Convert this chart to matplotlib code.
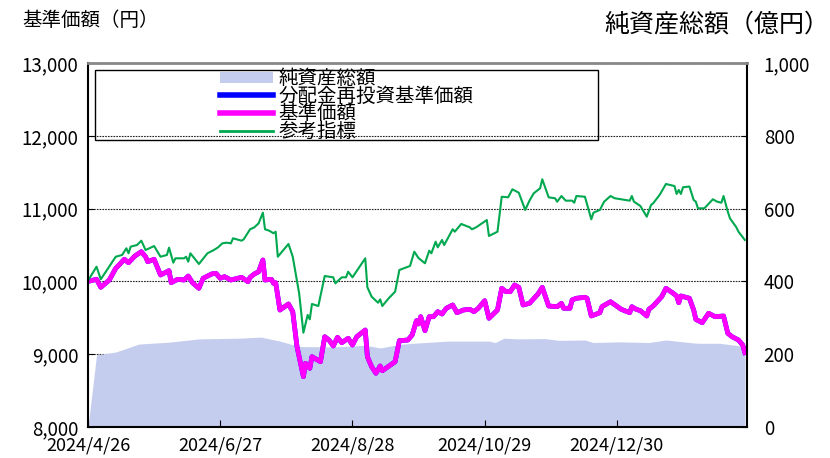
import numpy as np
import matplotlib.pyplot as plt
from matplotlib.patches import Rectangle, Patch
from matplotlib.lines import Line2D

plt.rcParams['font.family'] = ['Noto Sans CJK JP', 'DejaVu Sans']

# x axis: days since 2024/4/26
tick_days = [0, 62, 124, 186, 248]
tick_labels = ['2024/4/26', '2024/6/27', '2024/8/28', '2024/10/29', '2024/12/30']

# 参考指標
ref_days = [0, 4, 6, 11, 13, 16, 18, 19, 20, 23, 25, 27, 31, 34, 37, 38, 40, 41, 45, 46,
            47, 48, 52, 56, 59, 61, 63, 65, 67, 68, 72, 73, 76, 78, 80, 82, 83, 85, 87, 88,
            89, 94, 96, 99, 101, 103, 104, 105, 108, 111, 115, 116, 119, 121, 122, 124, 130, 131, 133, 136,
            137, 138, 141, 144, 146, 151, 153, 155, 158, 160, 161, 163, 164, 166, 167, 171, 172, 175, 179, 180,
            182, 187, 188, 192, 194, 197, 199, 202, 205, 207, 209, 212, 213, 216, 219, 220, 222, 224, 227, 228,
            229, 233, 236, 237, 240, 242, 245, 247, 254, 255, 256, 259, 262, 264, 265, 268, 271, 275, 276, 277,
            278, 279, 282, 284, 285, 286, 289, 293, 295, 297, 298, 300, 301, 304, 305, 307, 308]
ref = [10010, 10202, 10029, 10249, 10339, 10363, 10455, 10386, 10477, 10500, 10559, 10431, 10486, 10339, 10363, 10463, 10257, 10317, 10317, 10339,
       10271, 10386, 10239, 10386, 10431, 10468, 10523, 10532, 10523, 10592, 10559, 10578, 10716, 10743, 10798, 10944, 10716, 10696, 10661, 10683,
       10339, 10514, 10339, 9837, 9295, 9539, 9479, 9690, 9662, 10074, 10056, 9974, 10056, 10056, 10133, 10056, 10317, 9919, 9790, 9707,
       9754, 9662, 9768, 9859, 10157, 10212, 10408, 10320, 10249, 10422, 10386, 10545, 10468, 10569, 10500, 10716, 10683, 10789, 10743, 10716,
       10743, 10843, 10624, 10683, 11163, 11155, 11265, 11218, 10981, 11109, 11210, 11279, 11403, 11155, 11142, 11095, 11173, 11109, 11109, 11081,
       11173, 11163, 10853, 10944, 10981, 11095, 11173, 11142, 11109, 11173, 11095, 11036, 10889, 11050, 11073, 11187, 11338, 11310, 11201, 11256,
       11201, 11293, 11303, 11118, 11095, 11004, 11004, 11128, 11095, 11081, 11173, 10957, 10867, 10743, 10683, 10606, 10569]

# 基準価額
nav_days = [0, 4, 6, 10, 13, 15, 17, 19, 22, 25, 27, 28, 31, 34, 38, 39, 42, 45, 47, 49,
            52, 54, 58, 60, 62, 64, 67, 72, 75, 76, 78, 80, 82, 83, 86, 87, 88, 90, 94, 96,
            98, 101, 102, 104, 105, 109, 111, 113, 115, 117, 119, 122, 124, 126, 130, 131, 133, 135, 137, 138,
            144, 146, 150, 152, 154, 155, 156, 158, 160, 162, 164, 166, 168, 171, 173, 176, 179, 181, 183, 186,
            188, 192, 194, 196, 198, 200, 202, 204, 207, 211, 213, 216, 220, 222, 223, 226, 227, 229, 233, 234,
            236, 240, 241, 245, 250, 254, 255, 257, 259, 262, 263, 265, 269, 271, 274, 276, 277, 278, 282, 284,
            285, 288, 291, 294, 298, 300, 302, 305, 307, 308]
nav = [10000, 10029, 9919, 10019, 10180, 10239, 10304, 10257, 10349, 10408, 10339, 10271, 10304, 10088, 10147, 9982, 10029, 10019, 10074, 9982,
       9905, 10043, 10102, 10111, 10043, 10065, 10019, 10056, 9996, 10056, 10102, 10133, 10294, 10019, 10029, 9974, 9982, 9607, 9690, 9584,
       9103, 8691, 8875, 8806, 8966, 8897, 9240, 9195, 9113, 9232, 9158, 9218, 9126, 9240, 9332, 8966, 8828, 8738, 8838, 8773,
       8897, 9186, 9195, 9264, 9460, 9415, 9515, 9323, 9515, 9515, 9584, 9552, 9631, 9676, 9570, 9607, 9617, 9584, 9631, 9735,
       9493, 9607, 9905, 9859, 9859, 9951, 9919, 9676, 9699, 9827, 9919, 9662, 9653, 9699, 9631, 9631, 9745, 9768, 9782, 9768,
       9525, 9570, 9653, 9721, 9617, 9570, 9653, 9617, 9598, 9525, 9617, 9662, 9790, 9905, 9845, 9800, 9707, 9800, 9768, 9607,
       9479, 9433, 9562, 9515, 9525, 9287, 9240, 9195, 9126, 9021]
# 分配金再投資基準価額 (no distributions, same as 基準価額)
nav_reinv = list(nav)

# 純資産総額 (億円)
aum_days = [0, 4, 13, 24, 38, 52, 71, 81, 90, 99, 113, 123, 130, 137, 146, 155, 169, 188, 191, 195,
            202, 214, 221, 233, 237, 249, 263, 271, 282, 286, 296, 303, 308]
aum = [0, 198, 206, 228, 233, 242, 244, 247, 236, 221, 220, 222, 225, 217, 227, 231, 236, 236, 232, 244,
       242, 243, 238, 239, 232, 234, 232, 239, 232, 230, 230, 225, 221]

area_color = '#c5cdee'
fig = plt.figure(figsize=(8.3, 4.58), dpi=100)
ax1 = fig.add_axes([88/830, 1-427/458, 659/830, 364/458])
ax2 = ax1.twinx()
ax1.set_zorder(ax2.get_zorder() + 1)
ax1.patch.set_visible(False)

ax2.fill_between(aum_days, aum, 0, color=area_color, lw=0, zorder=1)
ax2.set_ylim(0, 1000)
ax2.set_yticks(range(0, 1001, 200))
ax2.set_yticklabels([f'{v:,}' for v in range(0, 1001, 200)])
ax2.set_axisbelow(True)
ax2.grid(axis='y', color='#222222', linestyle=(0, (1.5, 1)), linewidth=0.8)
ax2.tick_params(axis='y', direction='in', length=4, labelsize=13.5, pad=12)
for s in ax2.spines.values():
    s.set_visible(False)

ax1.plot(nav_days, nav_reinv, color='#0000ff', lw=3.4, solid_joinstyle='round')
ax1.plot(nav_days, nav, color='#ff00ff', lw=3.4, solid_joinstyle='round')
ax1.plot(ref_days, ref, color='#00a84f', lw=1.5)
ax1.set_xlim(0, 309)
ax1.set_ylim(8000, 13000)
ax1.set_yticks(range(8000, 13001, 1000))
ax1.set_yticklabels([f'{v:,}' for v in range(8000, 13001, 1000)])
ax1.set_xticks(tick_days)
ax1.set_xticklabels(tick_labels)
ax1.tick_params(axis='y', direction='in', length=4, labelsize=13.5, pad=7)
ax1.tick_params(axis='x', direction='in', length=5, labelsize=13, pad=7)
for name, s in ax1.spines.items():
    s.set_color('black')
    s.set_linewidth(1.5)
ax1.spines['top'].set_color('#888888')
ax1.spines['top'].set_linewidth(2)

handles = [Patch(facecolor=area_color, edgecolor='none'),
           Line2D([], [], color='#0000ff', lw=4),
           Line2D([], [], color='#ff00ff', lw=4),
           Line2D([], [], color='#00a84f', lw=2)]
labels = ['純資産総額', '分配金再投資基準価額', '基準価額', '参考指標']
ax1.legend(handles, labels, loc='upper left', bbox_to_anchor=((220-88)/659, (427-68)/364),
           frameon=False, fontsize=14, handlelength=2.7, handleheight=0.5, handletextpad=0.3,
           labelspacing=-0.17, borderpad=0, borderaxespad=0)
ax1.add_patch(Rectangle((7/659, (427-140)/364), (598-95)/659, 70/364, transform=ax1.transAxes,
                        fill=False, ec='black', lw=1, zorder=5))

fig.text(22/830, 1-20/458, '基準価額（円）', fontsize=14, ha='left', va='center')
fig.text(829/830, 1-25/458, '純資産総額（億円）', fontsize=18, ha='right', va='center')

fig.savefig('out.png', dpi=100)
